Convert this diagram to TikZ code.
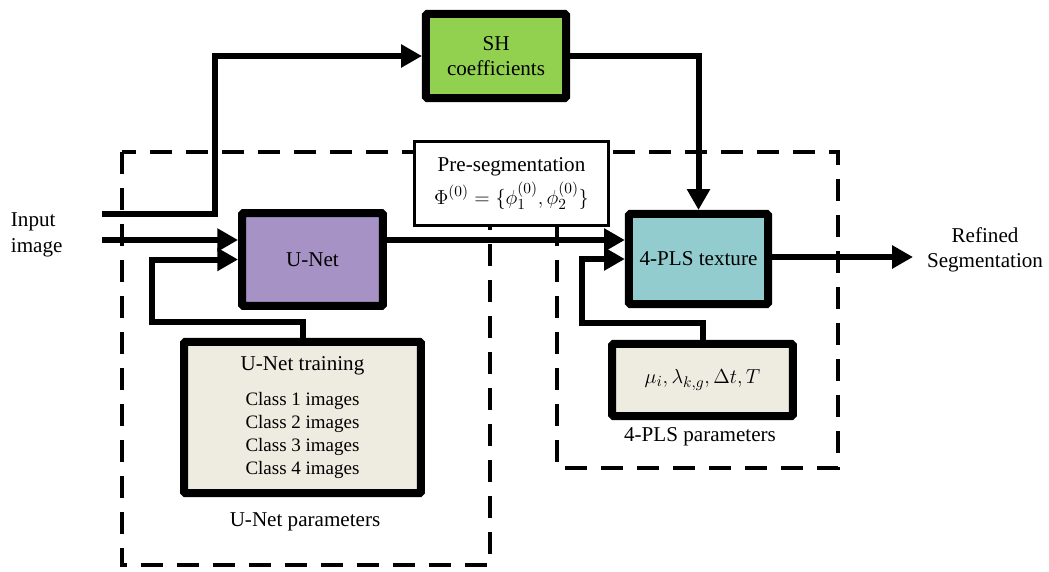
\documentclass[tikz,border=0pt]{standalone}
\usepackage{fontspec}
\setmainfont{Liberation Serif}
\usetikzlibrary{arrows.meta}

\definecolor{unetpurple}{HTML}{A692C4}
\definecolor{plscyan}{HTML}{92CCCF}
\definecolor{shgreen}{HTML}{92D050}
\definecolor{parambeige}{HTML}{EEECE1}

\newcommand{\bigtext}{\fontsize{15}{18}\selectfont}
\newcommand{\classtext}{\fontsize{13.5}{16}\selectfont}

\begin{document}
\begin{tikzpicture}[x=0.025cm, y=-0.025cm,
        font=\bigtext,
        block/.style={draw, line width=0.2cm, rounded corners=1pt, inner sep=0pt, align=center},
        presegbox/.style={draw, fill=white, line width=0.075cm, inner sep=0pt, align=center},
        flow/.style={line width=0.15cm, -{Triangle[length=5.2mm,width=5.5mm]}},
        groupframe/.style={line width=0.1cm, dash pattern=on 0.55cm off 0.35cm}]
    \useasboundingbox (0,0) rectangle (1049,571);
    %\draw[lightgray] (0,0) grid[step=50] (1049,571);

    % dashed group frames
    \draw[groupframe] (122,152) rectangle (490,565);
    \draw[groupframe] (557,152) rectangle (838,468);

    % blocks
    \node[block, fill=shgreen, minimum width=3.5cm, minimum height=2.1cm] (sh) at (496,56) {SH\\coefficients};
    \node[block, fill=unetpurple, minimum width=3.52cm, minimum height=2.32cm] (unet) at (312.5,259.5) {U-Net};
    \node[block, fill=parambeige, minimum width=5.92cm, minimum height=3.78cm] (train) at (302.5,417.5)
        {U-Net training\\[7pt]\classtext Class 1 images\\[-1.5pt]\classtext Class 2 images\\[-1.5pt]\classtext Class 3 images\\[-1.5pt]\classtext Class 4 images};
    \node[block, fill=plscyan, minimum width=3.48cm, minimum height=2.25cm] (plstex) at (698.5,259) {4-PLS texture};
    \node[block, fill=parambeige, minimum width=4.52cm, minimum height=1.8cm] (plspar) at (702.5,380)
        {$\mu_i,\lambda_{k,g},\Delta t,T$};
    \node[presegbox, minimum width=4.85cm, minimum height=2.1cm] (preseg) at (511.5,183.5)
        {Pre-segmentation\\[3pt]$\Phi^{(0)}=\{\phi_1^{(0)},\phi_2^{(0)}\}$};

    % labels
    \node[anchor=west, align=left] (input) at (6,235) {Input\\image};
    \node[align=center] (refined) at (985,250) {Refined\\Segmentation};
    \node (unetlbl) at (305,522) {U-Net parameters};
    \node (plslbl) at (700,437) {4-PLS parameters};

    \coordinate (in1) at (102,214);
    \coordinate (in2) at (102,240);
    \coordinate (out) at (913,257);

    % connectors
    \draw[flow] (in1) -- (215,214) |- (sh.west);
    \draw[flow] (in2) -- (in2 -| unet.west);
    \draw[flow] (train.north) |- (152,322) |- (unet.west);
    \draw[flow] (unet.east |- in2) -- (plstex.west |- in2);
    \draw[flow] (sh.east) -| (plstex.north);
    \draw[flow] (plspar.north) |- (582,323) |- (plstex.west);
    \draw[flow] (plstex.east |- out) -- (out);
\end{tikzpicture}
\end{document}
